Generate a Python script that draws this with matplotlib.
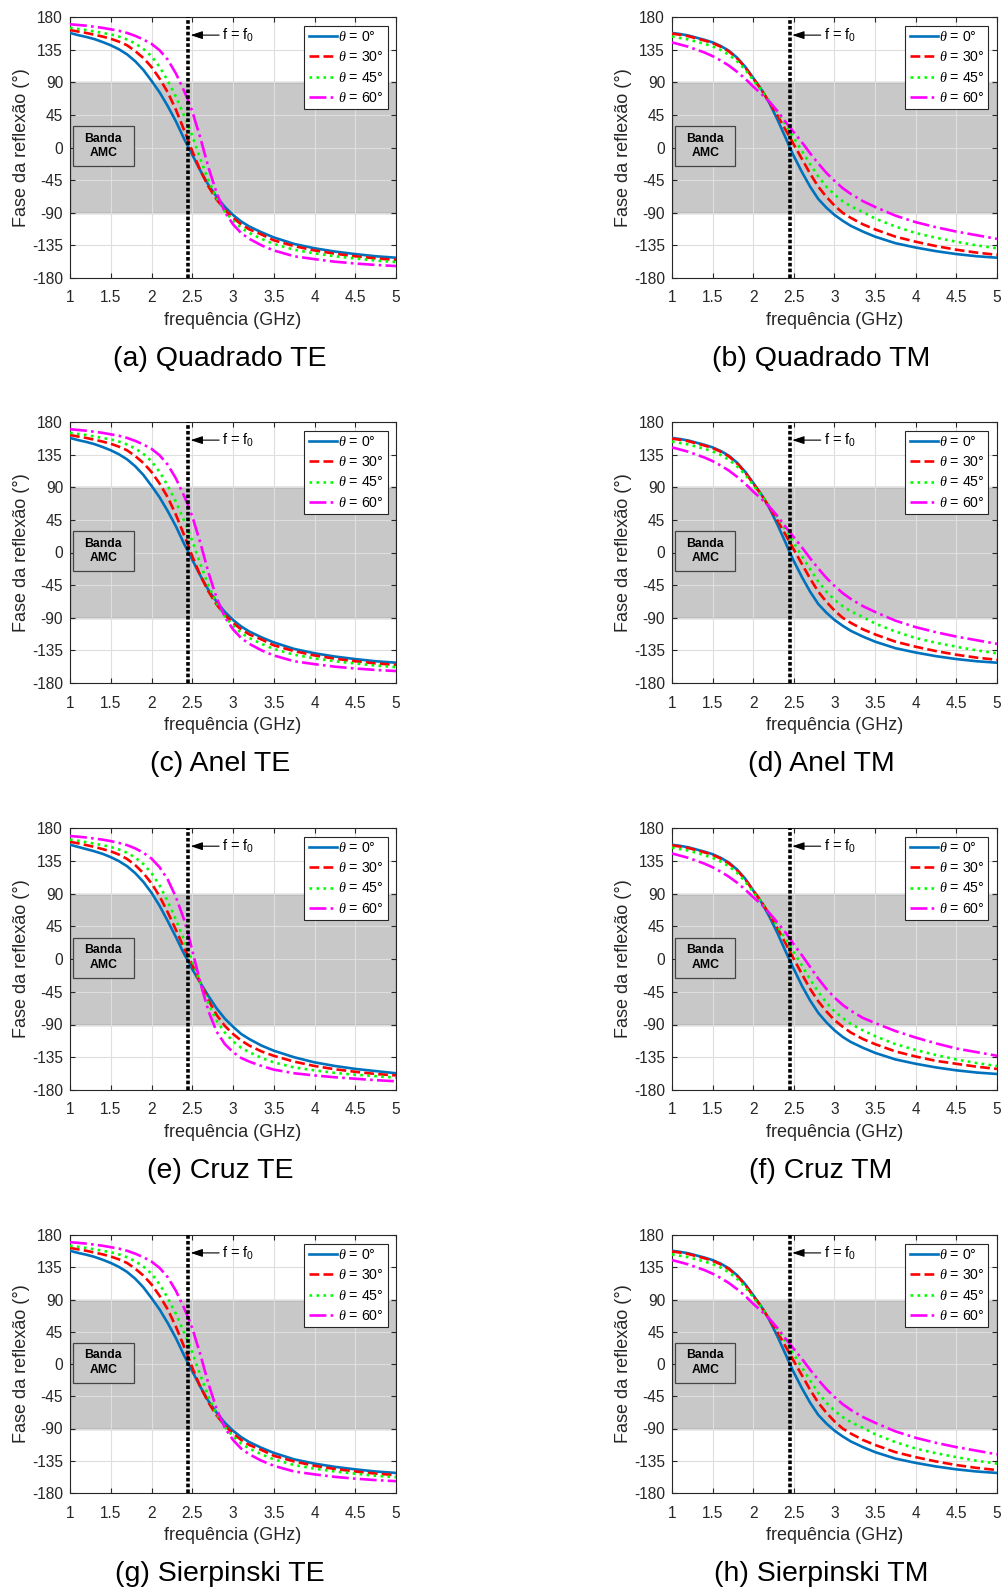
import matplotlib
matplotlib.use('Agg')
import matplotlib.pyplot as plt
from matplotlib.patches import Rectangle

plt.rcParams['font.family'] = ['Liberation Sans', 'DejaVu Sans']
plt.rcParams['axes.unicode_minus'] = False
plt.rcParams['mathtext.fontset'] = 'custom'
plt.rcParams['mathtext.rm'] = 'Liberation Sans'
plt.rcParams['mathtext.it'] = 'Liberation Serif:italic'
plt.rcParams['mathtext.default'] = 'regular'

# ---------------- data ----------------
freq = [1.0, 1.1, 1.2, 1.3, 1.4, 1.5, 1.6, 1.7, 1.8, 1.9, 2.0, 2.1, 2.2, 2.3, 2.4, 2.45,
        2.5, 2.6, 2.7, 2.8, 2.9, 3.0, 3.1, 3.2, 3.35, 3.5, 3.75, 4.0, 4.25, 4.5, 4.75, 5.0]

# TE (Quadrado, Anel, Sierpinski look identical)
te_0 = [158, 155, 152.5, 149.5, 145.5, 141, 135.5, 128.5, 119, 107, 92, 76, 57, 36, 12, 1,
        -10, -32, -52, -68, -82, -93, -102, -109, -117, -124, -133, -139, -143.5, -147, -150, -152]
te_30 = [162, 160, 158, 155.5, 153, 150, 146, 141, 133, 123.5, 111, 95, 76, 52, 24, 10,
         -5, -32, -54, -72, -86, -97, -106, -113, -120, -128, -136, -142, -146.5, -150, -153, -155]
te_45 = [165, 163.5, 162, 160, 158, 156, 153, 149, 143.5, 136, 126, 111, 92, 70, 44, 31,
         16, -16, -46, -70, -88, -101, -111, -118, -126, -133, -141, -146, -150, -153, -156, -158]
te_60 = [170, 169, 168, 166.5, 165, 163, 161, 158, 154, 149, 143, 134, 121, 102, 78, 65,
         50, 13, -28, -63, -89, -106, -118, -126, -135, -142, -150, -154, -157.5, -160, -162, -163.5]

# TE Cruz
cz_te_0 = [157, 154, 151, 148, 144.5, 140, 134.5, 127.5, 118, 106, 91, 73, 52, 30, 7, -3,
           -14, -33, -51, -68, -82, -93, -103, -110, -119, -126, -135, -142, -147, -151, -154, -157]
cz_te_30 = [161, 159, 156.5, 154, 151, 148, 143.5, 137.5, 129, 118, 104, 86, 64, 40, 15, 4,
            -8, -33, -57, -77, -92, -103, -112, -119, -127, -133, -141, -147, -151.5, -155, -158, -160]
cz_te_45 = [164, 162.5, 160.5, 158.5, 156.5, 154, 150.5, 146, 139.5, 130.5, 118, 101, 79, 54, 26, 12,
            -3, -33, -62, -85, -101, -113, -122, -128, -136, -142, -149, -153, -156.5, -159, -161, -163]
cz_te_60 = [169, 168, 167, 165.5, 164, 162, 159.5, 156.5, 152, 146, 138, 126, 109, 85, 54, 34,
            12, -33, -72, -100, -117, -128, -136, -141, -147, -152, -157, -160, -162.5, -164.5, -166.5, -168]

# TM (Quadrado, Anel, Sierpinski look identical)
tm_0 = [158, 156.5, 154.5, 151.5, 148.5, 145, 140, 133.5, 124, 111.5, 96, 80, 61, 38, 13, 0,
        -12, -34, -54, -71, -83, -93, -101, -108, -116, -123, -132, -138, -143, -147, -150, -152]
tm_30 = [157, 155.5, 153.5, 150.5, 147.5, 144, 139, 132.5, 123, 110.5, 95, 80, 62, 44, 24, 14,
         4, -16, -36, -54, -68, -80, -90, -97, -106, -113, -123, -130, -136, -141, -145, -148]
tm_45 = [153, 151, 149, 146, 143, 139.5, 134.5, 128, 119, 107.5, 93, 79, 64, 48, 31, 22,
         13, -5, -23, -40, -54, -65, -74, -81, -89, -98, -109, -118, -124.5, -130, -135, -139]
tm_60 = [145, 142, 139, 135, 131, 126, 120, 113, 104.5, 95, 84, 74, 63, 50, 35, 28,
         21, 7, -8, -22, -35, -46, -56, -64, -74, -82, -94, -103, -110, -116, -121, -126]

# TM Cruz
cz_tm_0 = [157, 155.5, 153.5, 150.5, 147.5, 144, 139, 132.5, 123, 110.5, 94, 78, 58, 35, 10, -2,
           -14, -37, -57, -74, -87, -98, -107, -114, -122, -129, -138, -144, -149, -153, -156, -158]
cz_tm_30 = [156, 154.5, 152.5, 149.5, 146.5, 143, 138, 131.5, 122, 109.5, 94, 79, 61, 42, 21, 10,
            0, -21, -41, -58, -72, -84, -93, -101, -110, -117, -127, -134, -140, -144, -148, -151]
cz_tm_45 = [153, 151, 149, 146, 142.5, 139, 134, 127.5, 118.5, 106.5, 92, 78, 62, 45, 27, 18,
            9, -9, -28, -45, -60, -72, -81, -89, -98, -106, -117, -125, -132, -138, -143, -147]
cz_tm_60 = [145, 142, 139, 135, 131, 126, 120, 113, 105, 95.5, 85, 75, 63, 50, 36, 28,
            20, 5, -11, -27, -41, -53, -63, -71, -81, -88, -99, -108, -116, -123, -128, -133]

captions = ['(a) Quadrado TE', '(b) Quadrado TM', '(c) Anel TE', '(d) Anel TM',
            '(e) Cruz TE', '(f) Cruz TM', '(g) Sierpinski TE', '(h) Sierpinski TM']
panel_data = [
    (te_0, te_30, te_45, te_60), (tm_0, tm_30, tm_45, tm_60),
    (te_0, te_30, te_45, te_60), (tm_0, tm_30, tm_45, tm_60),
    (cz_te_0, cz_te_30, cz_te_45, cz_te_60), (cz_tm_0, cz_tm_30, cz_tm_45, cz_tm_60),
    (te_0, te_30, te_45, te_60), (tm_0, tm_30, tm_45, tm_60),
]
angles = [0, 30, 45, 60]
f0 = 2.45
xticks = [1, 1.5, 2, 2.5, 3, 3.5, 4, 4.5, 5]
xticklabels = ['1', '1.5', '2', '2.5', '3', '3.5', '4', '4.5', '5']
yticks = [-180, -135, -90, -45, 0, 45, 90, 135, 180]

# ---------------- styles ----------------
colors = ['#0072BD', '#FF0000', '#00FF00', '#FF00FF']
styles = ['-', '--', ':', '-.']

W, H = 1003, 1590
fig = plt.figure(figsize=(W / 100, H / 100), dpi=100)

col_left = [70, 672]
col_width = [326, 325]
row_top = [17, 422, 828, 1235]
row_bot = [278, 683, 1090, 1493]
cap_y = [359, 764, 1171, 1574]
cap_x = [220, 821]

for i in range(8):
    r, c = divmod(i, 2)
    ax = fig.add_axes([col_left[c] / W, 1 - row_bot[r] / H, col_width[c] / W,
                       (row_bot[r] - row_top[r]) / H])
    ax.set_axisbelow('line')
    # AMC band
    ax.axhspan(-90, 90, facecolor='#c8c8c8', edgecolor='#555555', linewidth=0.9, zorder=1)
    for k in range(4):
        ax.plot(freq, panel_data[i][k], color=colors[k], linestyle=styles[k],
                linewidth=1.9, label=r'$\it{\theta}$ = %d°' % angles[k], zorder=3)
    ax.axvline(f0, color='black', linestyle=(0, (1.0, 0.6)), linewidth=2.6, zorder=4)
    ax.annotate('', xy=(2.48, 155), xytext=(2.83, 155),
                arrowprops=dict(arrowstyle='-|>,head_length=0.6,head_width=0.2',
                                color='black', lw=0.8, shrinkA=0, shrinkB=0,
                                mutation_scale=12), zorder=5)
    ax.text(2.87, 155, 'f = f$_0$', fontsize=10.5, ha='left', va='center', zorder=5)
    # Banda AMC box
    ax.add_patch(Rectangle((1.04, -26), 0.74, 55, facecolor='#c8c8c8',
                           edgecolor='#444444', linewidth=0.9, zorder=5))
    ax.text(1.41, 2, 'Banda\nAMC', fontsize=8.8, fontweight='bold', ha='center',
            va='center', linespacing=1.25, zorder=6)
    ax.set_xlim(1, 5)
    ax.set_ylim(-180, 180)
    ax.set_xticks(xticks)
    ax.set_xticklabels(xticklabels)
    ax.set_yticks(yticks)
    ax.grid(True, color='#dedede', linewidth=0.8)
    ax.tick_params(direction='in', length=3.5, top=True, right=True,
                   labelsize=11.2, colors='#262626')
    ax.tick_params(axis='x', pad=9)
    ax.tick_params(axis='y', pad=5)
    for s in ax.spines.values():
        s.set_color('#262626')
        s.set_linewidth(0.8)
    ax.set_xlabel('frequência (GHz)', fontsize=13, color='#262626', labelpad=5)
    ax.set_ylabel('Fase da reflexão (°)', fontsize=13, color='#262626', labelpad=1.5)
    leg = ax.legend(loc='upper right', fontsize=10.2, frameon=True, fancybox=False,
                    edgecolor='#262626', framealpha=1, borderpad=0.3,
                    labelspacing=0.45, handlelength=2.0, handletextpad=0.05,
                    borderaxespad=0.6)
    leg.get_frame().set_linewidth(0.8)
    leg.set_zorder(10)
    fig.text(cap_x[c] / W, 1 - cap_y[r] / H, captions[i], fontsize=20.5,
             ha='center', va='center')

fig.savefig('out.png', dpi=100)
